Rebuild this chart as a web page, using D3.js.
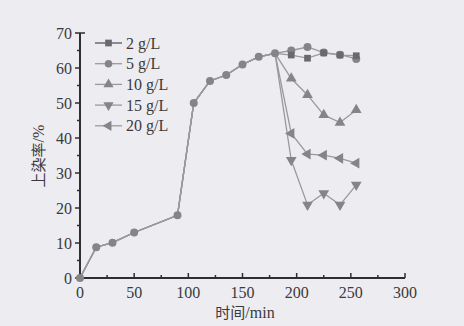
<!DOCTYPE html>
<html><head><meta charset="utf-8">
<script src="https://cdn.jsdelivr.net/npm/d3@7/dist/d3.min.js"></script>
<style>body{margin:0;background:#ededf1;}svg{display:block;}</style>
</head><body>
<svg id="c" width="464" height="326"></svg>
<script>
const seriesNames = ["2 g/L","5 g/L","10 g/L","15 g/L","20 g/L"];
const commonTimes = [0,15,30,50,90,105,120,135,150,165,180];
const commonValues = [0,8.8,10.1,13,17.9,50,56.3,58,61,63.2,64.2];
const branchTimes = [195,210,225,240,255];
const s2 = [63.7,62.8,64.3,63.7,63.5];
const s5 = [65,66,64.4,63.8,62.6];
const s10 = [57,52.3,46.6,44.4,48];
const s15 = [33.7,20.9,24.2,20.9,26.6];
const s20 = [41.3,35.4,35.1,34.2,32.8];
const xTicks = [0,50,100,150,200,250,300];
const yTicks = [0,10,20,30,40,50,60,70];
const branches = [s2,s5,s10,s15,s20];
const symbols = [d3.symbolSquare,d3.symbolCircle,d3.symbolTriangle,"down","left"];

const svg = d3.select("#c");
const x = d3.scaleLinear().domain([0,300]).range([80,405]);
const y = d3.scaleLinear().domain([0,70]).range([278,33]);
const font = "'Liberation Serif','Times New Roman',serif";
const cjk = "'Noto Sans CJK SC',sans-serif";
const axisCol = "#2e2e30", lineCol = "#9a9a9c", markCol = "#858587", txtCol = "#3a3a3c";

// axes
const gx = svg.append("g").attr("transform",`translate(0,${y(0)})`);
gx.append("line").attr("x1",x(0)).attr("x2",x(300)).attr("stroke",axisCol).attr("stroke-width",2);
d3.range(0,301,25).forEach(v=>{
  gx.append("line").attr("x1",x(v)).attr("x2",x(v)).attr("y1",0).attr("y2",v%50===0?-5:-3).attr("stroke",axisCol).attr("stroke-width",1.5);
});
xTicks.forEach(v=>{
  gx.append("text").attr("x",x(v)).attr("y",20).attr("text-anchor","middle").attr("font-family",font).attr("font-size",16).attr("fill",txtCol).text(v);
});
const gy = svg.append("g").attr("transform",`translate(${x(0)},0)`);
gy.append("line").attr("y1",y(0)).attr("y2",y(70)).attr("stroke",axisCol).attr("stroke-width",2);
d3.range(0,71,5).forEach(v=>{
  gy.append("line").attr("y1",y(v)).attr("y2",y(v)).attr("x1",0).attr("x2",v%10===0?-5:-3).attr("stroke",axisCol).attr("stroke-width",1.5);
});
gy.append("line").attr("y1",y(70)).attr("y2",y(70)).attr("x1",0).attr("x2",5).attr("stroke",axisCol).attr("stroke-width",1.5);
yTicks.forEach(v=>{
  gy.append("text").attr("x",-8).attr("y",y(v)+5.5).attr("text-anchor","end").attr("font-family",font).attr("font-size",16).attr("fill",txtCol).text(v);
});
const xt = svg.append("text").attr("x",245).attr("y",318).attr("text-anchor","middle").attr("font-size",15).attr("fill",txtCol);
xt.append("tspan").attr("font-family",cjk).text("时间");
xt.append("tspan").attr("font-family",font).attr("font-size",16).text("/min");
const yt = svg.append("text").attr("transform","translate(44,156) rotate(-90)").attr("text-anchor","middle").attr("font-size",15).attr("fill",txtCol);
yt.append("tspan").attr("font-family",cjk).text("上染率");
yt.append("tspan").attr("font-family",font).attr("font-size",16).text("/%");

function sym(t,size){
  if(t==="down"||t==="left") return d3.symbol().type(d3.symbolTriangle).size(size)();
  return d3.symbol().type(t).size(size)();
}
function rot(t){return t==="down"?180:(t==="left"?-90:0);}
const line = d3.line().x(d=>x(d[0])).y(d=>y(d[1]));

const data = branches.map(b=>commonTimes.map((t,i)=>[t,commonValues[i]]).concat(branchTimes.map((t,i)=>[t,b[i]])));
[4,3,2,1,0].forEach(k=>{
  svg.append("path").attr("d",line(data[k])).attr("fill","none").attr("stroke",lineCol).attr("stroke-width",1.3);
});
[4,3,2,1,0].forEach(k=>{
  svg.selectAll(null).data(data[k].slice(commonTimes.length)).enter().append("path")
    .attr("d",sym(symbols[k],k===0?45:50))
    .attr("transform",d=>`translate(${x(d[0])},${y(d[1])}) rotate(${rot(symbols[k])})`)
    .attr("fill",k===0?"#6a6a6c":markCol);
});
svg.selectAll(null).data(commonTimes.map((t,i)=>[t,commonValues[i]])).enter().append("path")
  .attr("d",d3.symbol().type(d3.symbolCircle).size(50)())
  .attr("transform",d=>`translate(${x(d[0])},${y(d[1])})`).attr("fill",markCol);

// legend
seriesNames.forEach((n,i)=>{
  const ly = 43 + i*20.7;
  svg.append("line").attr("x1",95).attr("x2",122).attr("y1",ly).attr("y2",ly).attr("stroke",i===0?"#555":lineCol).attr("stroke-width",1.3);
  svg.append("path").attr("d",sym(symbols[i],45)).attr("transform",`translate(108.5,${ly}) rotate(${rot(symbols[i])})`).attr("fill",i===0?"#6a6a6c":markCol);
  svg.append("text").attr("x",126).attr("y",ly+5.5).attr("font-family",font).attr("font-size",16).attr("fill",txtCol).text(n);
});
</script>
</body></html>
